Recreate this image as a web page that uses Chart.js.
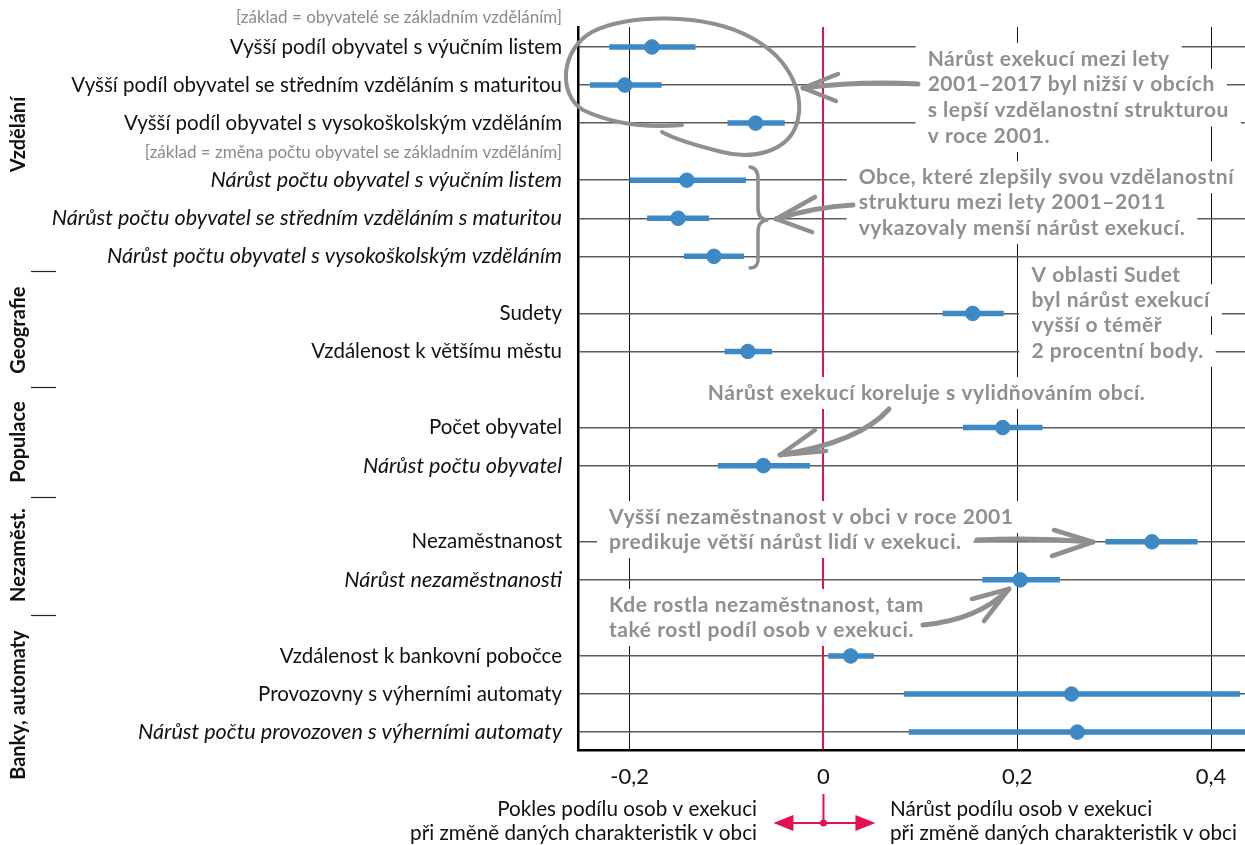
<!DOCTYPE html>
<html><head><meta charset="utf-8">
<script src="https://cdn.jsdelivr.net/npm/chart.js@4.4.0/dist/chart.umd.min.js"></script>
<style>html,body{margin:0;padding:0;background:#fff;}#wrap{width:1245px;height:845px;}</style>
</head><body><div id="wrap"><canvas id="c" width="1245" height="845"></canvas></div>
<script>
// ---------- DATA ----------
const categories = [
  "Vyšší podíl obyvatel s výučním listem",
  "Vyšší podíl obyvatel se středním vzděláním s maturitou",
  "Vyšší podíl obyvatel s vysokoškolským vzděláním",
  "Nárůst počtu obyvatel s výučním listem",
  "Nárůst počtu obyvatel se středním vzděláním s maturitou",
  "Nárůst počtu obyvatel s vysokoškolským vzděláním",
  "Sudety",
  "Vzdálenost k většímu městu",
  "Počet obyvatel",
  "Nárůst počtu obyvatel",
  "Nezaměstnanost",
  "Nárůst nezaměstnanosti",
  "Vzdálenost k bankovní pobočce",
  "Provozovny s výherními automaty",
  "Nárůst počtu provozoven s výherními automaty"
];
const italicRows = [false,false,false,true,true,true,false,false,false,true,false,true,false,false,true];
const rowSlots   = [0,1,2,3.5,4.5,5.5,7,8,10,11,13,14,16,17,18];
const estimates  = [-0.177,-0.205,-0.070,-0.141,-0.150,-0.113,0.154,-0.078,0.185,-0.062,0.339,0.203,0.028,0.256,0.262];
const lowerCI    = [-0.221,-0.241,-0.099,-0.200,-0.182,-0.144,0.123,-0.102,0.144,-0.109,0.291,0.164,0.005,0.083,0.088];
const upperCI    = [-0.132,-0.167,-0.040,-0.080,-0.118,-0.082,0.186,-0.053,0.226,-0.014,0.386,0.244,0.052,0.430,0.460];
const xTickValues = [-0.2,0,0.2,0.4];
const groupNames = ["Vzdělání","Geografie","Populace","Nezaměst.","Banky, automaty"];
const headerTop = "[základ = obyvatelé se základním vzděláním]";
const headerMid = "[základ = změna počtu obyvatel se základním vzděláním]";
const bottomLeft = ["Pokles podílu osob v exekuci","při změně daných charakteristik v obci"];
const bottomRight = ["Nárůst podílu osob v exekuci","při změně daných charakteristik v obci"];
const notes = [
  ["Nárůst exekucí mezi lety","2001–2017 byl nižší v obcích","s lepší vzdělanostní strukturou","v roce 2001."],
  ["Obce, které zlepšily svou vzdělanostní","strukturu mezi lety 2001–2011","vykazovaly menší nárůst exekucí."],
  ["V oblasti Sudet","byl nárůst exekucí","vyšší o téměř","2 procentní body."],
  ["Nárůst exekucí koreluje s vylidňováním obcí."],
  ["Vyšší nezaměstnanost v obci v roce 2001","predikuje větší nárůst lidí v exekuci."],
  ["Kde rostla nezaměstnanost, tam","také rostl podíl osob v exekuci."]
];

// ---------- STYLE ----------
const BLUE = '#3D89C5', RED = '#E0124F', GREY = '#8f8f8f';
const LABEL_FONT = 'Lato, "Liberation Sans", sans-serif';
const NOTE_FONT = 'Lato, sans-serif';

const datasets = [];
categories.forEach((c, i) => {
  datasets.push({
    type: 'line',
    data: [{x: lowerCI[i], y: rowSlots[i]}, {x: upperCI[i], y: rowSlots[i]}],
    borderColor: BLUE, borderWidth: 5.5, pointRadius: 0, borderCapStyle: 'butt', order: 2
  });
});
datasets.push({
  type: 'scatter',
  data: estimates.map((v, i) => ({x: v, y: rowSlots[i]})),
  backgroundColor: BLUE, borderColor: BLUE, pointRadius: 7.3, pointHoverRadius: 7.3, order: 1
});

// annotation anchors (x in axis units, y in row-slot units)
const noteAnchors = [
  {x: 0.1075, y: 0.315, lh: 25.7},
  {x: 0.0364, y: 3.42, lh: 25.5},
  {x: 0.2146, y: 5.99, lh: 25.3},
  {x: -0.1193, y: 9.09, lh: 25},
  {x: -0.2213, y: 12.35, lh: 25},
  {x: -0.2213, y: 14.66, lh: 25}
];
const groupCenters = [2.3, 7.44, 10.38, 13.35, 17.29];
const groupSeps = [5.89, 8.93, 11.82, 14.92];

function strokePath(ctx, fn, w) {
  ctx.save(); ctx.strokeStyle = GREY; ctx.lineWidth = w || 4.5; ctx.lineCap = 'round'; ctx.lineJoin = 'round';
  ctx.beginPath(); fn(ctx); ctx.stroke(); ctx.restore();
}
function arrow(ctx, sx, sy, cx, cy, tx, ty, w1, w2) {
  strokePath(ctx, c => { c.moveTo(sx, sy); c.quadraticCurveTo(cx, cy, tx, ty); }, 5);
  strokePath(ctx, c => { c.moveTo(w1[0], w1[1]); c.lineTo(tx, ty); c.lineTo(w2[0], w2[1]); }, 4.5);
}

const decor = {
  id: 'decor',
  beforeDatasetsDraw(chart) {
    const {ctx, scales: {x, y}} = chart;
    ctx.save();
    ctx.font = 'bold 21px ' + NOTE_FONT;
    if ('letterSpacing' in ctx) ctx.letterSpacing = '0.55px';
    ctx.textBaseline = 'middle';
    notes.forEach((lines, k) => {
      const a = noteAnchors[k];
      const px = x.getPixelForValue(a.x), py0 = y.getPixelForValue(a.y);
      lines.forEach((t, j) => {
        const w = ctx.measureText(t).width;
        ctx.fillStyle = '#fff';
        ctx.fillRect(px - 12, py0 + j * a.lh - 16, w + 24, 32);
      });
    });
    notes.forEach((lines, k) => {
      const a = noteAnchors[k];
      const px = x.getPixelForValue(a.x), py0 = y.getPixelForValue(a.y);
      ctx.fillStyle = GREY;
      lines.forEach((t, j) => ctx.fillText(t, px, py0 + j * a.lh));
    });
    ctx.restore();
  },
  afterDatasetsDraw(chart) {
    const {ctx} = chart;
    // loop around the first three rows
    strokePath(ctx, c => {
      c.moveTo(682, 125); c.quadraticCurveTo(625, 130, 583, 110);
      c.bezierCurveTo(558, 95, 560, 50, 592, 32);
      c.bezierCurveTo(625, 14, 705, 12, 752, 38);
      c.bezierCurveTo(792, 60, 806, 97, 796, 126);
      c.bezierCurveTo(786, 152, 752, 160, 722, 152);
      c.bezierCurveTo(698, 146, 676, 140, 662, 132);
    }, 4);
    // arrows
    arrow(ctx, 918, 84, 860, 81, 803, 88, [838, 74], [836, 101]);
    // brace
    strokePath(ctx, c => {
      c.moveTo(750, 167); c.quadraticCurveTo(759, 168, 758, 182); c.lineTo(758, 208);
      c.quadraticCurveTo(758, 219, 767, 220); c.quadraticCurveTo(758, 221, 758, 232);
      c.lineTo(758, 256); c.quadraticCurveTo(759, 268, 750, 268);
    }, 3.5);
    arrow(ctx, 853, 205, 815, 207, 776, 219, [815, 197], [812, 232]);
    arrow(ctx, 889, 409, 860, 442, 780, 455, [815, 430], [826, 451]);
    arrow(ctx, 977, 540, 1035, 537, 1093, 542, [1054, 530], [1052, 556]);
    arrow(ctx, 923, 625, 978, 620, 1009, 589, [972, 599], [984, 621]);
  },
  afterDraw(chart) {
    const {ctx, scales: {x, y}} = chart;
    ctx.save();
    // headers
    ctx.fillStyle = '#8a8a8a'; ctx.font = '17px ' + LABEL_FONT; ctx.textAlign = 'right'; ctx.textBaseline = 'middle';
    ctx.fillText(headerTop, 562, 18);
    ctx.fillText(headerMid, 562, y.getPixelForValue(2.76));
    // group labels
    ctx.fillStyle = '#111'; ctx.font = 'bold 20px ' + LABEL_FONT; ctx.textAlign = 'center';
    groupNames.forEach((g, i) => {
      ctx.save(); ctx.translate(19, y.getPixelForValue(groupCenters[i])); ctx.rotate(-Math.PI / 2);
      ctx.fillText(g, 0, 0); ctx.restore();
    });
    ctx.strokeStyle = '#222'; ctx.lineWidth = 1.2;
    groupSeps.forEach(s => { const py = Math.round(y.getPixelForValue(s)) + 0.5;
      ctx.beginPath(); ctx.moveTo(31, py); ctx.lineTo(56, py); ctx.stroke(); });
    // bottom explanation
    ctx.fillStyle = '#111'; ctx.font = '20.7px ' + LABEL_FONT;
    ctx.textAlign = 'right';
    ctx.fillText(bottomLeft[0], 757, 809); ctx.fillText(bottomLeft[1], 757, 833);
    ctx.textAlign = 'left';
    ctx.fillText(bottomRight[0], 890, 809); ctx.fillText(bottomRight[1], 890, 833);
    // red direction arrow
    const zx = x.getPixelForValue(0);
    ctx.strokeStyle = RED; ctx.fillStyle = RED; ctx.lineWidth = 2;
    ctx.beginPath(); ctx.moveTo(zx, 794); ctx.lineTo(zx, 823);
    ctx.moveTo(zx - 38, 823); ctx.lineTo(zx + 38, 823); ctx.stroke();
    ctx.beginPath(); ctx.moveTo(zx - 50, 823); ctx.lineTo(zx - 30, 815); ctx.lineTo(zx - 30, 831); ctx.closePath(); ctx.fill();
    ctx.beginPath(); ctx.moveTo(zx + 52, 823); ctx.lineTo(zx + 32, 815); ctx.lineTo(zx + 32, 831); ctx.closePath(); ctx.fill();
    ctx.beginPath(); ctx.arc(zx, 823, 3.5, 0, Math.PI * 2); ctx.fill();
    ctx.restore();
  }
};

new Chart(document.getElementById('c'), {
  data: {datasets},
  options: {
    responsive: false, animation: false, maintainAspectRatio: false,
    layout: {autoPadding: false, padding: {top: 27, left: 0, right: 0, bottom: 0}},
    plugins: {legend: {display: false}, tooltip: {enabled: false}},
    scales: {
      x: {
        type: 'linear', min: -0.2533, max: 0.435,
        afterBuildTicks: s => { s.ticks = xTickValues.map(v => ({value: v})); },
        afterFit: s => { s.height = 95; s.paddingLeft = 0; s.paddingRight = 0; },
        grid: {
          color: c => (c.tick && c.tick.value === 0) ? RED : '#111',
          lineWidth: c => (c.tick && c.tick.value === 0) ? 2 : 1,
          drawTicks: false
        },
        border: {display: true, color: '#000', width: 2.5},
        ticks: {
          padding: 14, color: '#111', font: {family: LABEL_FONT, size: 22},
          callback: v => v === 0 ? '0' : String(v.toFixed(1)).replace('.', ',')
        }
      },
      y: {
        type: 'linear', reverse: true, min: -0.525, max: 18.47,
        afterBuildTicks: s => { s.ticks = rowSlots.map(v => ({value: v})); },
        afterFit: s => { s.width = 578; s.paddingTop = 0; s.paddingBottom = 0; },
        grid: {color: '#5a5a5a', lineWidth: 1.5, drawTicks: false},
        border: {display: true, color: '#000', width: 2.5},
        ticks: {
          padding: 16, color: '#111', autoSkip: false,
          font: c => italicRows[c.index] ? {family: LABEL_FONT, size: 21.6, style: 'italic'} : {family: LABEL_FONT, size: 20.5, style: 'normal'},
          callback: (v, i) => categories[i]
        }
      }
    }
  },
  plugins: [decor]
});
</script></body></html>
